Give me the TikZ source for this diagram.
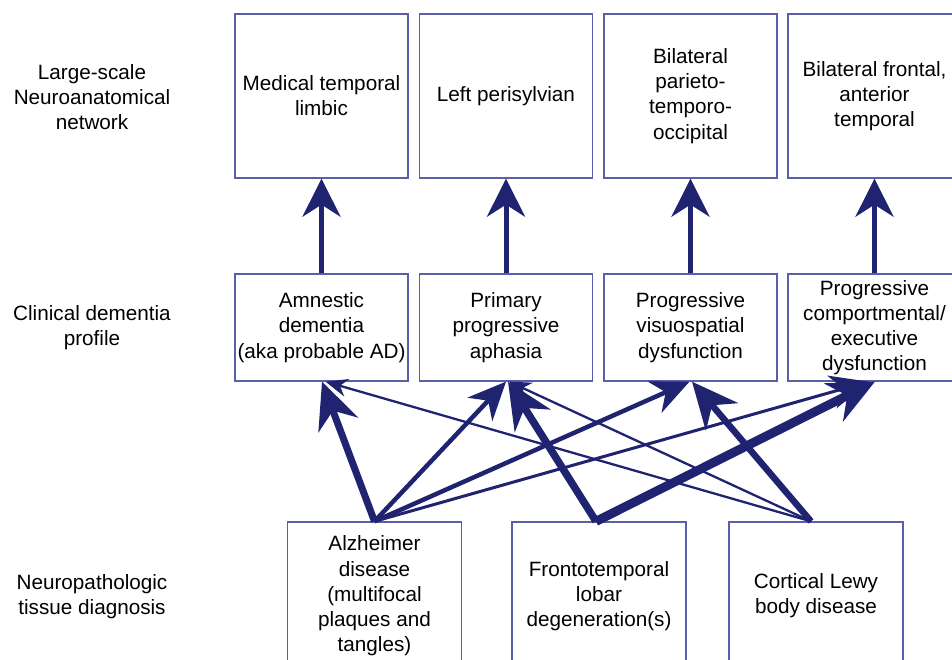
\documentclass[tikz,border=0pt]{standalone}
\usepackage{fontspec}
\setmainfont{Liberation Sans}
\usetikzlibrary{arrows.meta}
\definecolor{navy}{HTML}{1F2370}
\definecolor{boxblue}{HTML}{5B5EA8}
\tikzset{
  box/.style={draw=boxblue, line width=1.3pt, align=center, inner sep=0pt,
    font=\fontsize{20.7}{25.2}\selectfont},
  lbl/.style={align=center, inner sep=0pt, font=\fontsize{20.7}{25.2}\selectfont},
  topbox/.style={box, minimum width=173pt, minimum height=164pt},
  midbox/.style={box, minimum width=173pt, minimum height=107pt},
  botbox/.style={box, minimum width=174pt, minimum height=148pt},
  conn/.style={draw=navy, line cap=butt},
  vert/.style={conn, line width=5pt, -{Stealth[length=38pt,width=38pt,inset=12pt]}},
  bigarr/.style={conn, -{Stealth[length=46pt,width=42pt,inset=15pt]}},
  midarr/.style={conn, -{Stealth[length=38pt,width=34pt,inset=12pt]}},
  smallarr/.style={conn, -{Stealth[length=22pt,width=18pt,inset=7pt]}},
}
\begin{document}
\begin{tikzpicture}[x=1pt,y=-1pt]
\useasboundingbox (0,0) rectangle (952,660);
% left labels
\node[lbl] (l1) at (92,97) {Large-scale\\Neuroanatomical\\network};
\node[lbl] (l2) at (92,328) {Clinical dementia\\profile};
\node[lbl] (l3) at (92,596.5) {Neuropathologic\\tissue diagnosis};
% top boxes
\node[topbox] (t1) at (321.5,96) {Medical temporal\\limbic};
\node[topbox] (t2) at (506,96) {Left perisylvian};
\node[topbox] (t3) at (690.5,96) {Bilateral\\parieto-\\temporo-\\occipital};
\node[topbox] (t4) at (874.5,96) {Bilateral frontal,\\anterior\\temporal};
% middle boxes
\node[midbox] (m1) at (321.5,327.5) {Amnestic\\dementia\\(aka probable AD)};
\node[midbox] (m2) at (506,327.5) {Primary\\progressive\\aphasia};
\node[midbox] (m3) at (690.5,327.5) {Progressive\\visuospatial\\dysfunction};
\node[midbox] (m4) at (874.5,327.5) {Progressive\\comportmental/\\executive\\dysfunction};
% bottom boxes
\node[botbox] (A) at (374.5,596) {Alzheimer\\disease\\(multifocal\\plaques and\\tangles)};
\node[botbox] (F) at (599,596) {Frontotemporal\\lobar\\degeneration(s)};
\node[botbox] (C) at (816,596) {Cortical Lewy\\body disease};
% vertical arrows
\draw[vert] (m1.north) -- (t1.south);
\draw[vert] (m2.north) -- (t2.south);
\draw[vert] (m3.north) -- (t3.south);
\draw[vert] (m4.north) -- (t4.south);
% thin arrows (drawn first)
\draw[smallarr, line width=2.3pt] ([xshift=-5pt]C.north) -- ([xshift=4pt]m1.south);
\draw[smallarr, line width=2.3pt] ([xshift=-5pt]C.north) -- ([xshift=3pt]m2.south);
\draw[midarr, line width=3pt] (A.north) -- ([xshift=-6pt]m4.south);
% medium arrows
\draw[midarr, line width=4.5pt] (A.north) -- ([xshift=0pt]m2.south);
\draw[midarr, line width=4.5pt] (A.north) -- ([xshift=-1pt]m3.south);
% thick arrows
\draw[bigarr, line width=7pt] (A.north) -- ([xshift=0.5pt]m1.south);
\draw[bigarr, line width=7.5pt] ([xshift=-3pt]F.north) -- ([xshift=2pt]m2.south);
\draw[bigarr, line width=6.5pt] ([xshift=-5pt]C.north) -- ([xshift=1.5pt]m3.south);
\draw[bigarr, line width=9pt] ([xshift=-3pt]F.north) -- ([xshift=0.5pt]m4.south);
\end{tikzpicture}
\end{document}
